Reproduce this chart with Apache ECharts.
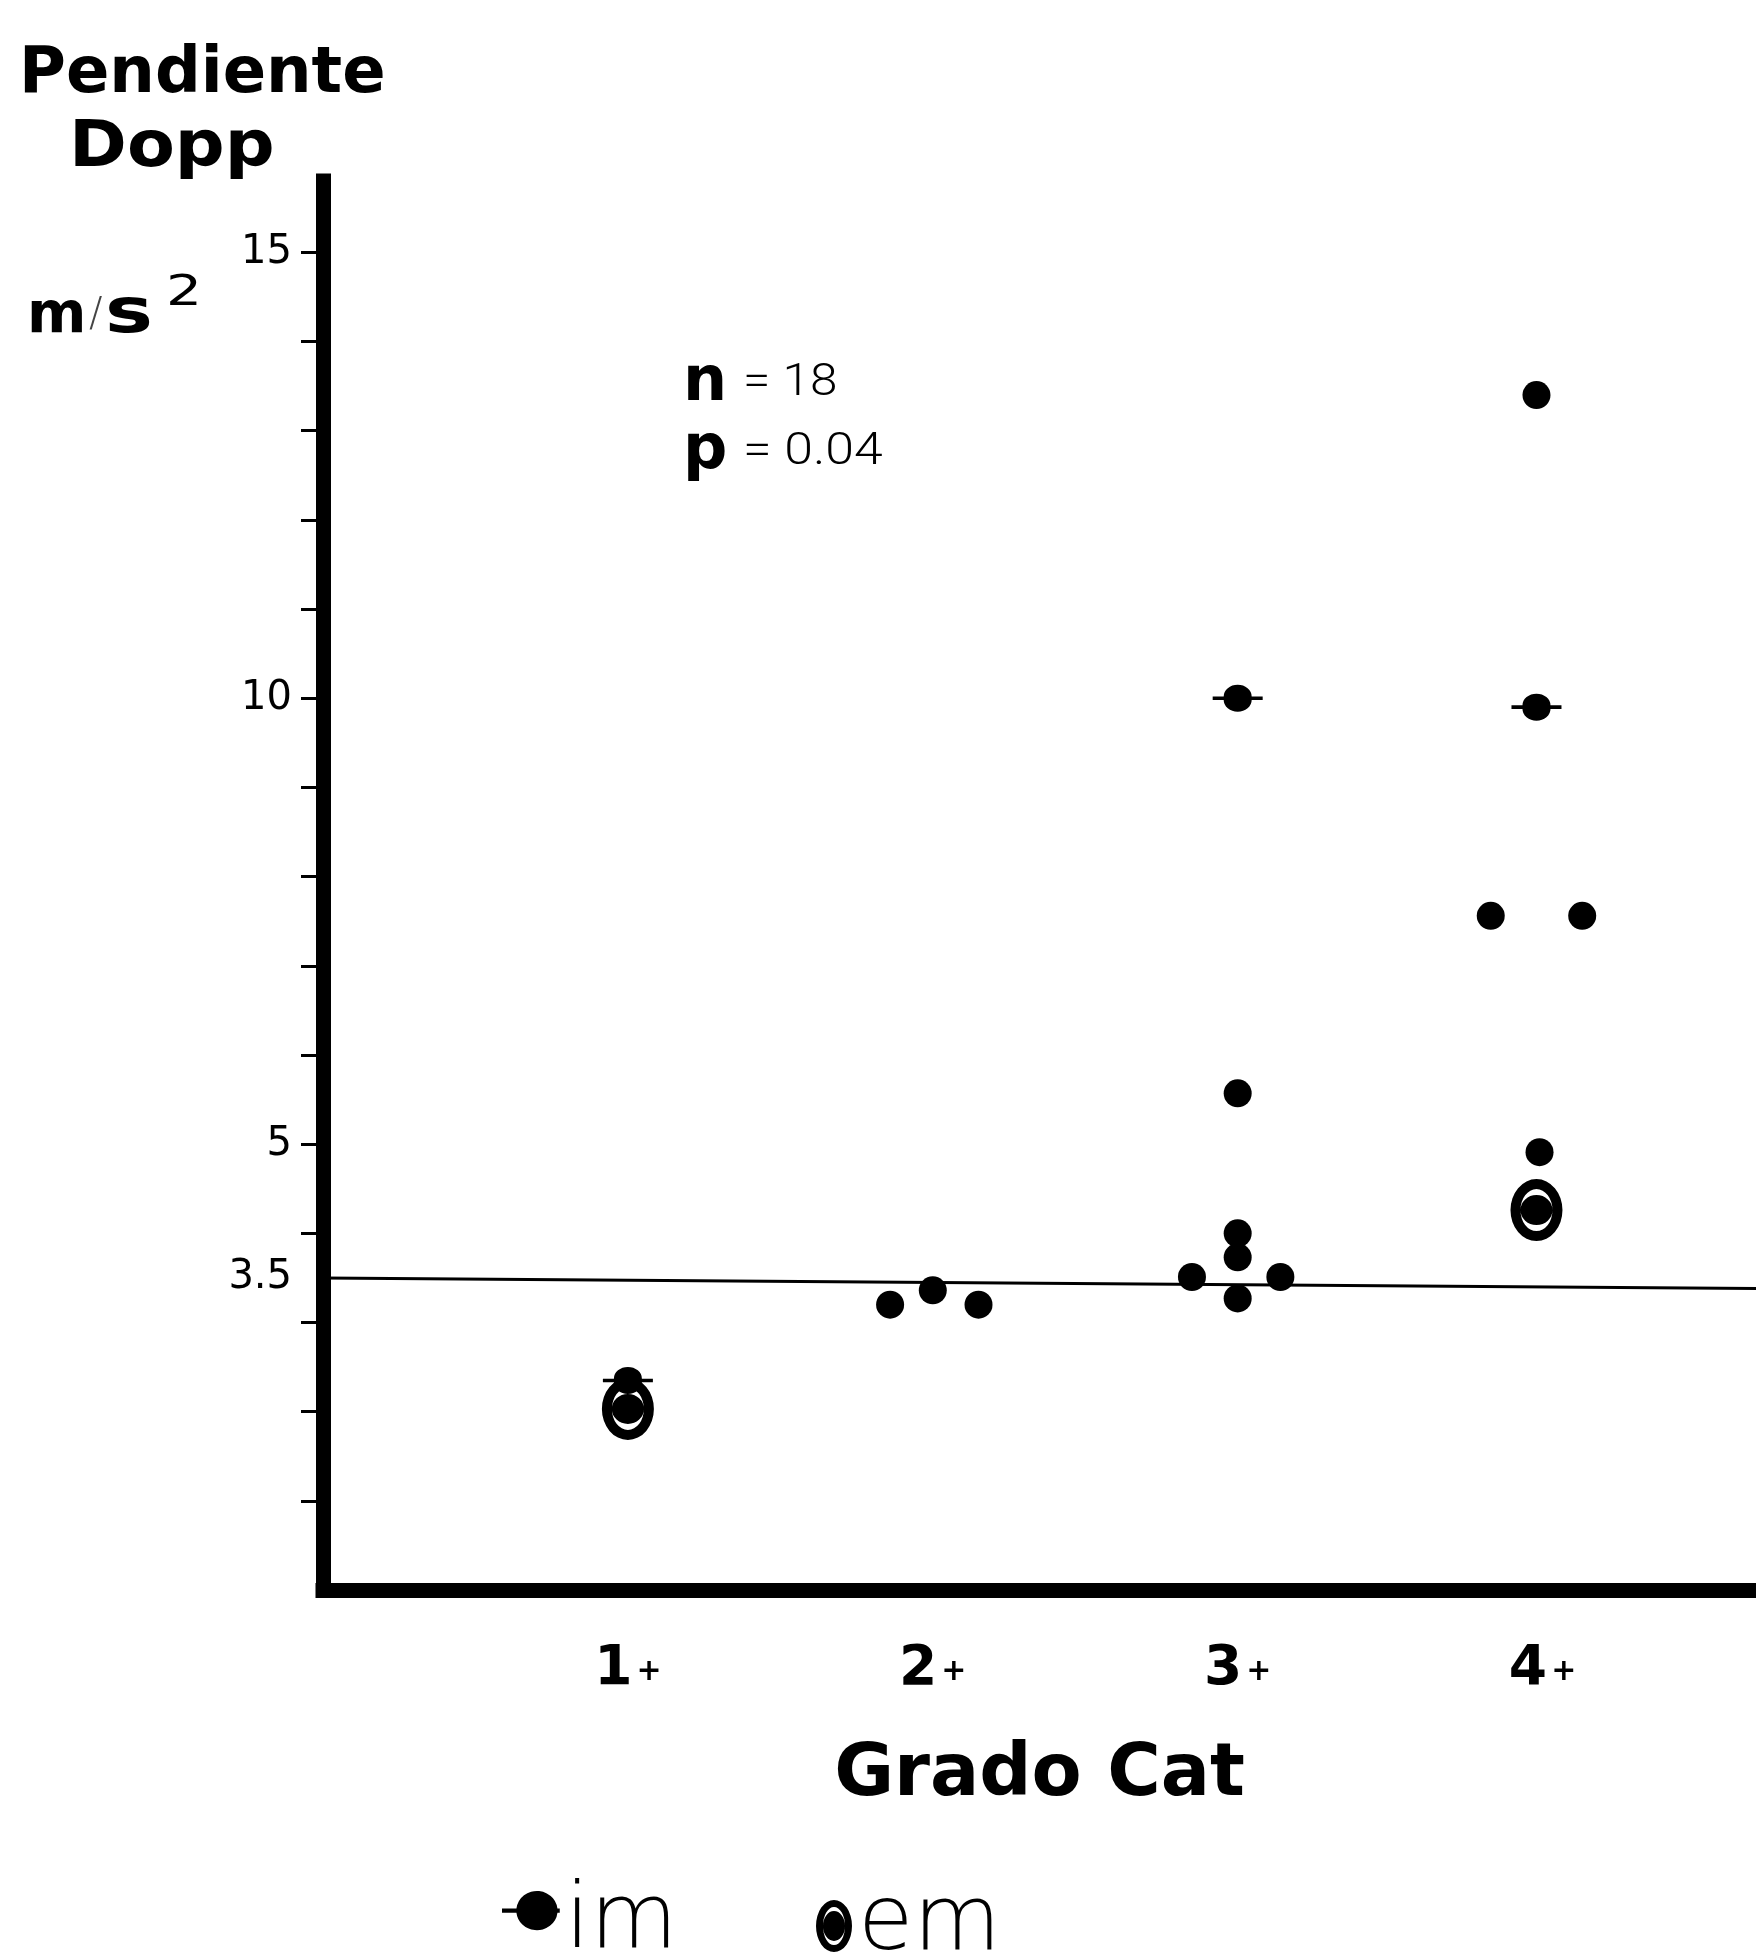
<!DOCTYPE html>
<html>
<head>
<meta charset="utf-8">
<script src="https://cdn.jsdelivr.net/npm/echarts@6/dist/echarts.min.js"></script>
<style>
  html, body { margin: 0; padding: 0; background: #fff; }
  #chart { width: 1756px; height: 1959px; }
</style>
</head>
<body>
<div id="chart"></div>
<script>
// grado categories (x positions 1..4 -> "1+".."4+")
const gradeTicks = [1, 2, 3, 4]
// y axis: minor ticks every unit, labels only at these values
const yTickValues = [1, 2, 3, 4, 5, 6, 7, 8, 9, 10, 11, 12, 13, 14, 15]
const yLabelValues = [3.5, 5, 10, 15]

// im points (plain filled dots) [grado, pendiente m/s2]
const imPlain = [
  [1.86, 3.20], [2.00, 3.36], [2.15, 3.20],
  [3.00, 5.57], [3.00, 4.00], [3.00, 3.73], [2.85, 3.51], [3.14, 3.51], [3.00, 3.27],
  [3.98, 13.40], [3.83, 7.56], [4.13, 7.56], [3.99, 4.91]
]
// im points drawn with the small horizontal bar
const imBarred = [[1.00, 2.35], [3.00, 10.00], [3.98, 9.90]]
// em points (ring symbol)
const emPoints = [[1.00, 2.03], [3.98, 4.26]]
// 3.5 m/s2 reference line (slightly tilted in the original drawing)
const refLine = [[0, 3.5], [4.7, 3.38]]

const imBarSymbol = 'path://M0,11L11,11A14,13 0 1,1 39,11L50,11L50,15L39,15A14,13 0 1,1 11,15L0,15Z'
// legend icon sits a bit higher than its label: the tiny segment at the bottom only stretches the bbox
const imLegendIcon = 'path://M0,17L14,17A20,19 0 1,1 14,21L0,21Z M52,17L56,17L56,21L52,21Z M28,63.9L28.1,64L28,64Z'
const emSymbol = 'path://M0,31A26,31 0 1,1 52,31A26,31 0 1,1 0,31Z M10,31A16,21 0 1,0 42,31A16,21 0 1,0 10,31Z M10,31A16,15 0 1,1 42,31A16,15 0 1,1 10,31Z'
const emLegendIcon = 'path://M0,26A18,26 0 1,1 36,26A18,26 0 1,1 0,26Z M7,26A11,19 0 1,0 29,26A11,19 0 1,0 7,26Z M7,26A11,15 0 1,1 29,26A11,15 0 1,1 7,26Z'

const FONT = 'DejaVu Sans'

const chart = echarts.init(document.getElementById('chart'))

const legendText = { fontFamily: FONT, fontWeight: 200, fontSize: 90, color: '#000' }

const txt = (x, y, text, size, weight, extra) => ({
  type: 'text', x: x, y: y,
  ...(extra || {}),
  style: { text: text, fontFamily: FONT, fontWeight: weight, fontSize: size, fill: '#000', align: 'left', verticalAlign: 'middle' }
})

const thin = (x, y, text, sx) => ({
  type: 'text', x: x, y: y, scaleX: sx,
  style: { text: text, fontFamily: 'Roboto', fontWeight: 300, fontSize: 45, fill: '#000', align: 'left', verticalAlign: 'middle' }
})

const option = {
  backgroundColor: '#fff',
  animation: false,
  grid: { left: 323, right: 0, top: 181, bottom: 369 },
  xAxis: {
    type: 'value',
    min: 0,
    max: 4.7,
    splitLine: { show: false },
    axisLine: { show: true, onZero: false, lineStyle: { color: '#000', width: 15, cap: 'square' } },
    axisTick: { show: false },
    axisLabel: {
      customValues: gradeTicks,
      margin: 52,
      formatter: (v) => '{n|' + v + '}{p|+}',
      rich: {
        n: { fontFamily: FONT, fontWeight: 'bold', fontSize: 55, color: '#000' },
        p: { fontFamily: FONT, fontWeight: 'bold', fontSize: 30, color: '#000', padding: [6, 0, 0, 4] }
      }
    },
    name: 'Grado Cat',
    nameLocation: 'middle',
    nameGap: 150,
    nameTextStyle: { fontFamily: FONT, fontWeight: 'bold', fontSize: 73, color: '#000' }
  },
  yAxis: {
    type: 'value',
    min: 0,
    max: 15.8,
    splitLine: { show: false },
    axisLine: { show: true, onZero: false, lineStyle: { color: '#000', width: 15, cap: 'square' } },
    axisTick: { show: true, customValues: yTickValues, length: 22, lineStyle: { color: '#000', width: 3 } },
    axisLabel: { customValues: yLabelValues, margin: 31, fontFamily: FONT, fontSize: 40, color: '#000' }
  },
  legend: [
    {
      data: [{ name: 'im', icon: imLegendIcon }],
      left: 497, top: 1874, itemWidth: 58, itemHeight: 66,
      selectedMode: false, textStyle: legendText
    },
    {
      data: [{ name: 'em', icon: emLegendIcon }],
      left: 811, top: 1876, itemWidth: 38, itemHeight: 52,
      selectedMode: false, textStyle: legendText
    }
  ],
  series: [
    {
      name: 'em',
      type: 'scatter',
      data: emPoints,
      symbol: emSymbol,
      symbolSize: [52, 62],
      itemStyle: { color: '#000', opacity: 1 },
      markLine: {
        silent: true,
        symbol: 'none',
        label: { show: false },
        lineStyle: { color: '#000', width: 3, type: 'solid' },
        data: [[{ coord: refLine[0] }, { coord: refLine[1] }]]
      }
    },
    {
      name: 'im',
      type: 'scatter',
      data: imPlain,
      symbol: 'circle',
      symbolSize: 28,
      itemStyle: { color: '#000', opacity: 1 }
    },
    {
      name: 'im',
      type: 'scatter',
      data: imBarred,
      symbol: imBarSymbol,
      symbolSize: [50, 27],
      itemStyle: { color: '#000', opacity: 1 }
    }
  ],
  graphic: [
    txt(19, 75, 'Pendiente', 64, 'bold'),
    txt(69, 149, 'Dopp', 64, 'bold', { scaleX: 1.09 }),
    // unit m/s2
    txt(27, 317, 'm', 57, 'bold'),
    { type: 'text', x: 89, y: 316, style: { text: '/', fontFamily: FONT, fontWeight: 200, fontSize: 40, fill: '#444', align: 'left', verticalAlign: 'middle' } },
    txt(105, 316, 's', 62, 'bold', { scaleX: 1.3 }),
    txt(166, 294, '2', 42, 'normal', { scaleX: 1.35 }),
    // n / p annotation
    txt(683, 384, 'n', 62, 'bold'),
    thin(743, 384, '= 18', 1.1),
    txt(683, 452, 'p', 62, 'bold'),
    thin(743, 453, '= 0.04', 1.15)
  ]
}

chart.setOption(option)
</script>
</body>
</html>
